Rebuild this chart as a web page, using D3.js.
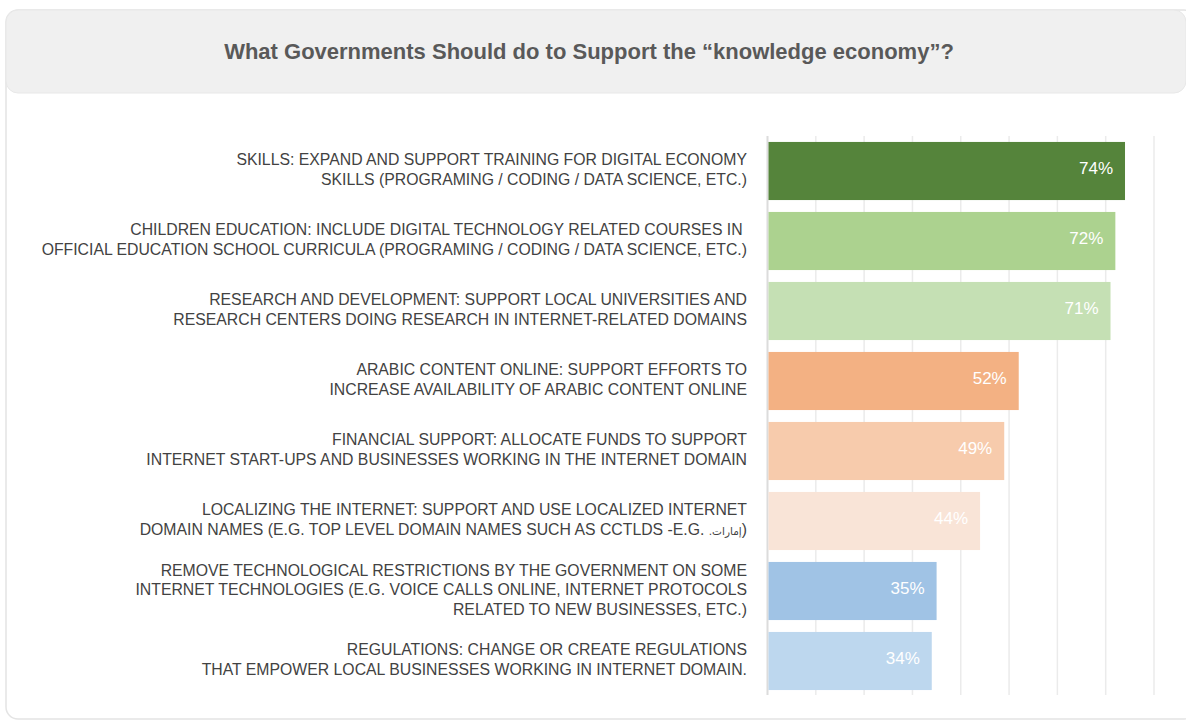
<!DOCTYPE html>
<html><head><meta charset="utf-8">
<script src="https://cdn.jsdelivr.net/npm/d3@7"></script>
<style>html,body{margin:0;padding:0;background:#fff;}svg{display:block;}</style>
</head><body>
<svg id="chart" width="1186" height="722"></svg>
<script>
const title = "What Governments Should do to Support the \u201Cknowledge economy\u201D?";
const categories = [
  ["SKILLS: EXPAND AND SUPPORT TRAINING FOR DIGITAL ECONOMY", "SKILLS (PROGRAMING / CODING / DATA SCIENCE, ETC.)"],
  ["CHILDREN EDUCATION: INCLUDE DIGITAL TECHNOLOGY RELATED COURSES IN ", "OFFICIAL EDUCATION SCHOOL CURRICULA (PROGRAMING / CODING / DATA SCIENCE, ETC.)"],
  ["RESEARCH AND DEVELOPMENT: SUPPORT LOCAL UNIVERSITIES AND", "RESEARCH CENTERS DOING RESEARCH IN INTERNET-RELATED DOMAINS"],
  ["ARABIC CONTENT ONLINE: SUPPORT EFFORTS TO", "INCREASE AVAILABILITY OF ARABIC CONTENT ONLINE"],
  ["FINANCIAL SUPPORT: ALLOCATE FUNDS TO SUPPORT", "INTERNET START-UPS AND BUSINESSES WORKING IN THE INTERNET DOMAIN"],
  ["LOCALIZING THE INTERNET: SUPPORT AND USE LOCALIZED INTERNET", "DOMAIN NAMES (E.G. TOP LEVEL DOMAIN NAMES SUCH AS CCTLDS -E.G. .\u0625\u0645\u0627\u0631\u0627\u062A)"],
  ["REMOVE TECHNOLOGICAL RESTRICTIONS BY THE GOVERNMENT ON SOME", "INTERNET TECHNOLOGIES (E.G. VOICE CALLS ONLINE, INTERNET PROTOCOLS", "RELATED TO NEW BUSINESSES, ETC.)"],
  ["REGULATIONS: CHANGE OR CREATE REGULATIONS", "THAT EMPOWER LOCAL BUSINESSES WORKING IN INTERNET DOMAIN."]
];
const values = [74, 72, 71, 52, 49, 44, 35, 34];
const colors = ["#55843b", "#acd28f", "#c5e0b4", "#f3b183", "#f7cbac", "#f9e4d7", "#a0c3e5", "#bdd7ee"];
const xTicks = [0, 10, 20, 30, 40, 50, 60, 70, 80];

const svg = d3.select("#chart");
const FONT = "'Liberation Sans', Arial, Helvetica, sans-serif";

// card
svg.append("rect").attr("x", 6).attr("y", 10).attr("width", 1190).attr("height", 709)
  .attr("rx", 12).attr("fill", "#fff").attr("stroke", "#e4e4e4").attr("stroke-width", 1.5);
svg.append("rect").attr("x", 6).attr("y", 10).attr("width", 1180).attr("height", 83)
  .attr("rx", 12).attr("fill", "#f0f0f0").attr("stroke", "#e8e8e8").attr("stroke-width", 1);

svg.append("text").attr("x", 589).attr("y", 59).attr("text-anchor", "middle")
  .attr("font-family", FONT).attr("font-weight", "bold")
  .attr("font-size", 22).attr("fill", "#595959").text(title);

const x = d3.scaleLinear().domain([0, 80]).range([767.5, 1154]);
const y = d3.scaleBand().domain(d3.range(values.length)).range([136, 696]).paddingInner(0.17).paddingOuter(0.085);

// grid
svg.append("g").selectAll("line").data(xTicks.slice(1)).join("line")
  .attr("x1", d => x(d)).attr("x2", d => x(d)).attr("y1", 136).attr("y2", 695)
  .attr("stroke", "#ebebeb").attr("stroke-width", 1.5);
svg.append("line").attr("x1", x(0)).attr("x2", x(0)).attr("y1", 136).attr("y2", 695)
  .attr("stroke", "#dcdcdc").attr("stroke-width", 2);

// bars
svg.append("g").selectAll("rect").data(values).join("rect")
  .attr("x", x(0) + 1).attr("y", (d, i) => y(i)).attr("width", d => x(d) - x(0) - 1)
  .attr("height", y.bandwidth()).attr("fill", (d, i) => colors[i]);

svg.append("g").selectAll("text").data(values).join("text")
  .attr("x", d => x(d) - 12).attr("y", (d, i) => y(i) + y.bandwidth() / 2 - 3)
  .attr("dy", "0.35em").attr("text-anchor", "end")
  .attr("font-family", FONT).attr("font-size", 17)
  .attr("fill", "#fff").text(d => d + "%");

// category labels
const lh = 19.5;
const arabic = /([.\u0600-\u06FF]*[\u0600-\u06FF][\u0600-\u06FF]*)/;
const lab = svg.append("g").attr("font-family", FONT)
  .attr("font-size", 15.8).attr("fill", "#424242").attr("text-anchor", "end");
categories.forEach((lines, i) => {
  const cy = y(i) + y.bandwidth() / 2 - 1.5;
  const t = lab.append("text").attr("y", cy - (lines.length - 1) * lh / 2);
  lines.forEach((ln, j) => {
    const line = t.append("tspan").attr("x", 747).attr("dy", j === 0 ? "0.35em" : lh)
      .attr("direction", "ltr").attr("unicode-bidi", "embed");
    const m = ln.match(/^(.*?)(\.[\u0600-\u06FF]+)(.*)$/);
    if (m) {
      line.append("tspan").text(m[1] + "\u200E");
      line.append("tspan").attr("font-size", 10.5).attr("font-family", "'DejaVu Sans', sans-serif").text("\u200E" + m[2] + "\u200E");
      line.append("tspan").text(m[3]);
    } else {
      line.text(ln);
    }
  });
});
</script>
</body></html>
